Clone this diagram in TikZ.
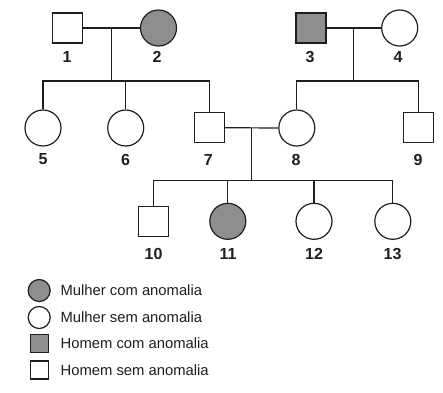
\documentclass[tikz,border=0pt]{standalone}
\usepackage{fontspec}
\setmainfont{Liberation Sans}
\definecolor{affgray}{RGB}{142,142,142}
\definecolor{inkc}{RGB}{30,30,30}
\begin{document}
\begin{tikzpicture}[x=1pt,y=-1pt,line width=1.2pt,draw=inkc,
  fem/.style={circle,draw=inkc,fill=white,minimum size=36pt,inner sep=0pt},
  mal/.style={rectangle,draw=inkc,fill=white,minimum size=30pt,inner sep=0pt},
  aff/.style={fill=affgray},
  lfem/.style={circle,draw=inkc,fill=white,minimum size=22pt,inner sep=0pt},
  lmal/.style={rectangle,draw=inkc,fill=white,minimum size=18pt,inner sep=0pt},
  num/.style={inner sep=0pt,text=inkc,font=\bfseries\fontsize{16}{16}\selectfont},
  legtext/.style={anchor=west,inner sep=0pt,text=inkc,font=\fontsize{14.8}{16}\selectfont}]
\useasboundingbox (0,0) rectangle (443,392);
% generation I
\node[mal] (p1) at (67.5,28) {};
\node[fem,aff] (p2) at (158.5,28) {};
\node[mal,aff] (p3) at (311,28) {};
\node[fem] (p4) at (399.7,28) {};
% generation II
\node[fem] (p5) at (43,128) {};
\node[fem] (p6) at (125.7,128) {};
\node[mal] (p7) at (209.5,127.7) {};
\node[fem] (p8) at (296.8,128) {};
\node[mal] (p9) at (418.8,127.7) {};
% generation III
\node[mal] (p10) at (153.7,221.7) {};
\node[fem,aff] (p11) at (227.8,221.3) {};
\node[fem] (p12) at (314,221.3) {};
\node[fem] (p13) at (392.8,221.3) {};
% labels
\node[num] (l1) at (67,57) {1};
\node[num] (l2) at (157,57) {2};
\node[num] (l3) at (310,57) {3};
\node[num] (l4) at (398,57) {4};
\node[num] (l5) at (43,159.5) {5};
\node[num] (l6) at (125.5,159.5) {6};
\node[num] (l7) at (208.3,159.5) {7};
\node[num] (l8) at (296,159.5) {8};
\node[num] (l9) at (418,159.5) {9};
\node[num] (l10) at (153.5,253.5) {10};
\node[num] (l11) at (228,253.5) {11};
\node[num] (l12) at (314,253.5) {12};
\node[num] (l13) at (392.5,253.5) {13};
% couple 1-2
\draw (p1.east) -- (p2.west) coordinate[pos=0.5] (m12);
\draw (m12) -- (m12 |- 0,81) coordinate (s12);
\draw (p5.north) -- (p5.north |- s12) -| (p7.north);
\draw (p6.north) -- (p6.north |- s12);
% couple 3-4
\draw (p3.east) -- (p4.west) coordinate[pos=0.5] (m34);
\draw (m34) -- (m34 |- 0,81) coordinate (s34);
\draw (p8.north) -- (p8.north |- s34) -| (p9.north);
% couple 7-8
\draw (p7.east) -- (p8.west) coordinate[pos=0.5] (m78);
\draw (m78) -- (m78 |- 0,180.3) coordinate (s78);
\draw (p10.north) -- (p10.north |- s78) -| (p13.north);
\draw (p11.north) -- (p11.north |- s78);
\draw (p12.north) -- (p12.north |- s78);
% legend
\node[lfem,aff] (g1) at (39.2,290.5) {};
\node[lfem] (g2) at (39.2,317.5) {};
\node[lmal,aff] (g3) at (39.2,343.5) {};
\node[lmal] (g4) at (39.2,370) {};
\node[legtext] (t1) at (60,290.5) {Mulher com anomalia};
\node[legtext] (t2) at (60,317.5) {Mulher sem anomalia};
\node[legtext] (t3) at (60,343.5) {Homem com anomalia};
\node[legtext] (t4) at (60,370) {Homem sem anomalia};
\end{tikzpicture}
\end{document}
